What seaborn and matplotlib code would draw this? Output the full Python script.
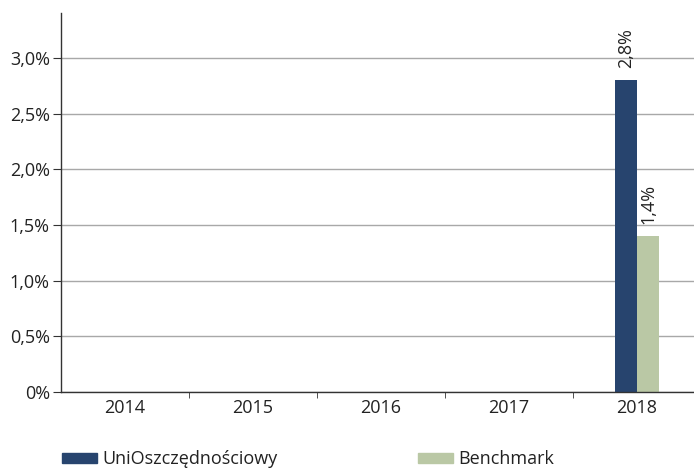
import pandas as pd
import numpy as np
import matplotlib
matplotlib.use("Agg")
import matplotlib.pyplot as plt
import seaborn as sns
from matplotlib.ticker import FixedLocator

years = ["2014", "2015", "2016", "2017", "2018"]
uni_values = [None, None, None, None, 2.8]
bench_values = [None, None, None, None, 1.4]
series_names = ["UniOszczędnościowy", "Benchmark"]
y_ticks = [0, 0.5, 1.0, 1.5, 2.0, 2.5, 3.0]
y_ticklabels = ["0%", "0,5%", "1,0%", "1,5%", "2,0%", "2,5%", "3,0%"]

colors = ["#27446e", "#bac8a5"]

sns.set_style("white")
plt.rcParams["font.family"] = ["Open Sans", "DejaVu Sans"]
FS = 13

df = pd.DataFrame({
    "year": years * 2,
    "series": [series_names[0]] * len(years) + [series_names[1]] * len(years),
    "value": uni_values + bench_values,
}).dropna()

fig = plt.figure(figsize=(6.94, 4.68), dpi=100)
ax = fig.add_axes([61 / 694, 76 / 468, 633 / 694, 379 / 468])

sns.barplot(
    data=df, x="year", y="value", hue="series",
    order=years, hue_order=series_names,
    palette=colors, width=0.35, saturation=1,
    linewidth=0, legend=False, ax=ax
)

# value labels above the bars
for cont in ax.containers:
    for b in cont:
        h = b.get_height()
        if np.isnan(h):
            continue
        lab = ("%.1f%%" % h).replace(".", ",")
        ax.annotate(lab, (b.get_x() + b.get_width() / 2, h),
                    xytext=(0, 23), textcoords="offset points",
                    ha="center", va="center", rotation=90,
                    fontsize=FS, color="#222222")

ax.set_xlim(-0.5, 4.445)
ax.set_ylim(0, 3.404)
ax.set_yticks(y_ticks)
ax.set_yticklabels(y_ticklabels, fontsize=FS, color="#222222")
ax.set_xticklabels(years, fontsize=FS, color="#222222")
ax.set_xlabel("")
ax.set_ylabel("")

ax.yaxis.grid(True, color="#a8a8a8", linewidth=1)
ax.set_axisbelow(True)

# ticks between categories
ax.xaxis.set_minor_locator(FixedLocator([0.5, 1.5, 2.5, 3.5]))
ax.tick_params(axis="x", which="major", length=0, pad=5)
ax.tick_params(axis="x", which="minor", length=4, direction="out", color="#333333", bottom=True)
ax.tick_params(axis="y", length=6, direction="out", color="#333333", left=True, pad=2)

for s in ["top", "right"]:
    ax.spines[s].set_visible(False)
for s in ["left", "bottom"]:
    ax.spines[s].set_color("#333333")
    ax.spines[s].set_linewidth(1)

handles = [plt.Rectangle((0, 0), 1, 1, color=c) for c in colors]
fig.legend(handles, series_names, loc="lower left", bbox_to_anchor=(46 / 694, -0.035),
           ncol=2, frameon=False, fontsize=FS, handlelength=1.95, handleheight=0.45,
           handletextpad=0.3, columnspacing=7.75, labelcolor="#222222")

fig.savefig("out.png", dpi=100)
